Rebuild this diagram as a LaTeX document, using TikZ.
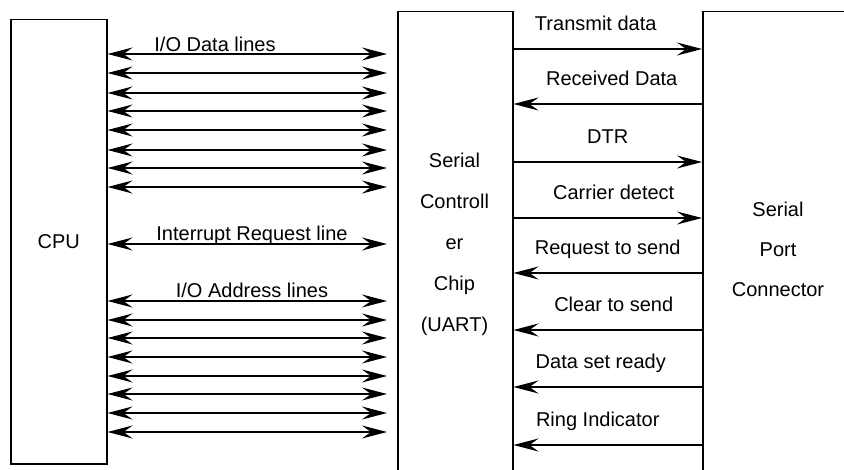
\documentclass[tikz,border=0pt]{standalone}
\usepackage{fontspec}
\setmainfont{Liberation Sans}
\usetikzlibrary{arrows.meta}
\begin{document}
\begin{tikzpicture}[x=1pt,y=-1pt,
  box/.style={draw, line width=1.5pt, rectangle, inner sep=0pt, anchor=north west},
  txt/.style={font=\fontsize{20}{24}\selectfont, inner sep=0pt},
  tip/.tip={Stealth[length=25pt,width=13pt,inset=9pt]},
  sig/.style={line width=1.3pt, -tip},
  bus/.style={line width=1.3pt, tip-tip, shorten >=10pt},
  siglbl/.style={txt, midway, anchor=base, yshift=18pt}]
\useasboundingbox (0,0) rectangle (844,470);
\fill[white] (0,0) rectangle (844,470);
\clip (0,0) rectangle (844,470);
% boxes
\node[box, minimum width=96pt, minimum height=444pt, txt] (cpu) at (10,19) {CPU};
\node[box, minimum width=115pt, minimum height=466pt] (uart) at (397,11) {};
\node[txt, align=center, font=\fontsize{20}{41}\selectfont] (uartlbl) at (454.5,244) {Serial\\Controll\\er\\Chip\\(UART)};
\node[box, minimum width=200pt, minimum height=466pt] (port) at (702,11) {};
\node[txt, align=center, font=\fontsize{20}{40}\selectfont] (portlbl) at (778,249) {Serial\\Port\\Connector};
% CPU <-> UART buses
\foreach \y in {54,73,93,111,130,150,168,187,244,301,320,338,357,376,394,413,432}{
  \coordinate (r) at (0,\y);
  \draw[bus] (cpu.east |- r) -- (uart.west |- r);
}
\node[txt, anchor=base] (datalbl) at (215,52) {I/O Data lines};
\node[txt, anchor=base] (irqlbl) at (252,241) {Interrupt Request line};
\node[txt, anchor=base] (addrlbl) at (252,298) {I/O Address lines};
% UART -> port
\foreach \y/\t/\dx in {49/Transmit data/-12,162/DTR/0,218/Carrier detect/6}{
  \coordinate (r) at (0,\y);
  \draw[sig] (uart.east |- r) -- node[siglbl, xshift=\dx pt] {\t} (port.west |- r);
}
% port -> UART
\foreach \y/\t/\dx in {104/Received Data/4,273/Request to send/0,330/Clear to send/6,387/Data set ready/-7,445/Ring Indicator/-10}{
  \coordinate (r) at (0,\y);
  \draw[sig] (port.west |- r) -- node[siglbl, xshift=\dx pt] {\t} (uart.east |- r);
}
\end{tikzpicture}
\end{document}
